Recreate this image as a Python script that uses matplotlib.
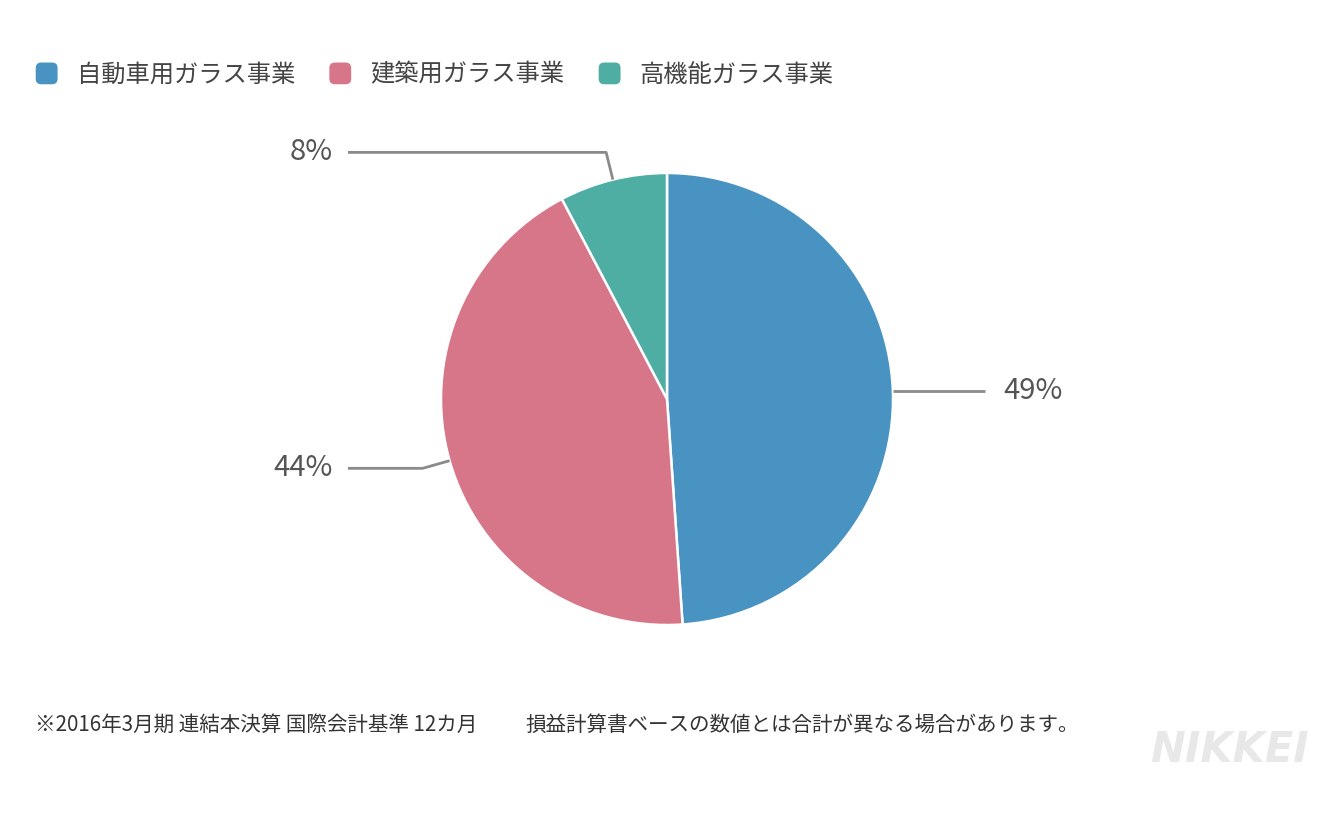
import numpy as np
import matplotlib.pyplot as plt
from matplotlib.patches import FancyBboxPatch
from matplotlib.legend_handler import HandlerPatch

plt.rcParams['font.family'] = ['Noto Sans CJK JP', 'DejaVu Sans']

W, H = 1336, 815   # canvas in pixels (dpi 100)

segments = ['自動車用ガラス事業', '建築用ガラス事業', '高機能ガラス事業']
shares = [48.9, 43.4, 7.7]
share_labels = ['49%', '44%', '8%']
colors = ['#4893C2', '#D87689', '#4EAEA3']
note_1 = '※2016年3月期 連結本決算 国際会計基準 12カ月'
note_2 = '損益計算書ベースの数値とは合計が異なる場合があります。'

cx, cy, r = 667, H - 399, 226

fig = plt.figure(figsize=(W / 100, H / 100), dpi=100)
ax = fig.add_axes([0, 0, 1, 1])

wedges, _ = ax.pie(shares, colors=colors, startangle=90, counterclock=False,
                   center=(cx, cy), radius=r,
                   wedgeprops=dict(edgecolor='white', linewidth=1.8))
ax.set_xlim(0, W)
ax.set_ylim(0, H)
ax.set_aspect('equal')
ax.axis('off')

# leader lines + percentage labels
for w, lab in zip(wedges, share_labels):
    mid = np.deg2rad((w.theta1 + w.theta2) / 2)
    x0, y0 = cx + r * np.cos(mid), cy + r * np.sin(mid)
    x1, y1 = cx + (r + 28) * np.cos(mid), cy + (r + 28) * np.sin(mid)
    if np.cos(mid) >= 0:
        y1 = y0
        x2 = 985
        ax.plot([x0, x1, x2], [y0, y1, y1], color='#8a8a8a', lw=2,
                solid_capstyle='butt')
        ax.text(x2 + 18, y1, lab, ha='left', va='center', fontsize=21,
                color='#555555')
    else:
        x2 = 348
        ax.plot([x0, x1, x2], [y0, y1, y1], color='#8a8a8a', lw=2,
                solid_capstyle='butt')
        ax.text(x2 - 15, y1, lab, ha='right', va='center', fontsize=21,
                color='#555555')


def rounded_box(legend, orig_handle, xdescent, ydescent, width, height, fontsize):
    return FancyBboxPatch((-xdescent + 2, -ydescent + 2), width - 4, height - 4,
                          boxstyle='round,pad=2,rounding_size=4')


leg = fig.legend(wedges, segments, loc='upper left', ncol=3,
                 bbox_to_anchor=(26 / W, 1 - 52 / H), frameon=False,
                 fontsize=17.5, handlelength=0.9, handleheight=1.0,
                 handletextpad=0.78, columnspacing=1.42, borderaxespad=0,
                 handler_map={w: HandlerPatch(patch_func=rounded_box) for w in wedges})
for t in leg.get_texts():
    t.set_color('#444444')
for h in leg.legend_handles:
    h.set_edgecolor('none')

ax.text(35, H - 725, note_1, ha='left', va='center', fontsize=14.8,
        color='#333333')
ax.text(525, H - 725, note_2, ha='left', va='center', fontsize=14.8,
        color='#333333')
ax.text(1150, H - 750, 'NIKKEI', ha='left', va='center', fontsize=30,
        fontweight='bold', fontstyle='italic', color='#e8e8e8',
        family=['Liberation Sans Narrow', 'DejaVu Sans'])

plt.savefig('out.png', dpi=100)
